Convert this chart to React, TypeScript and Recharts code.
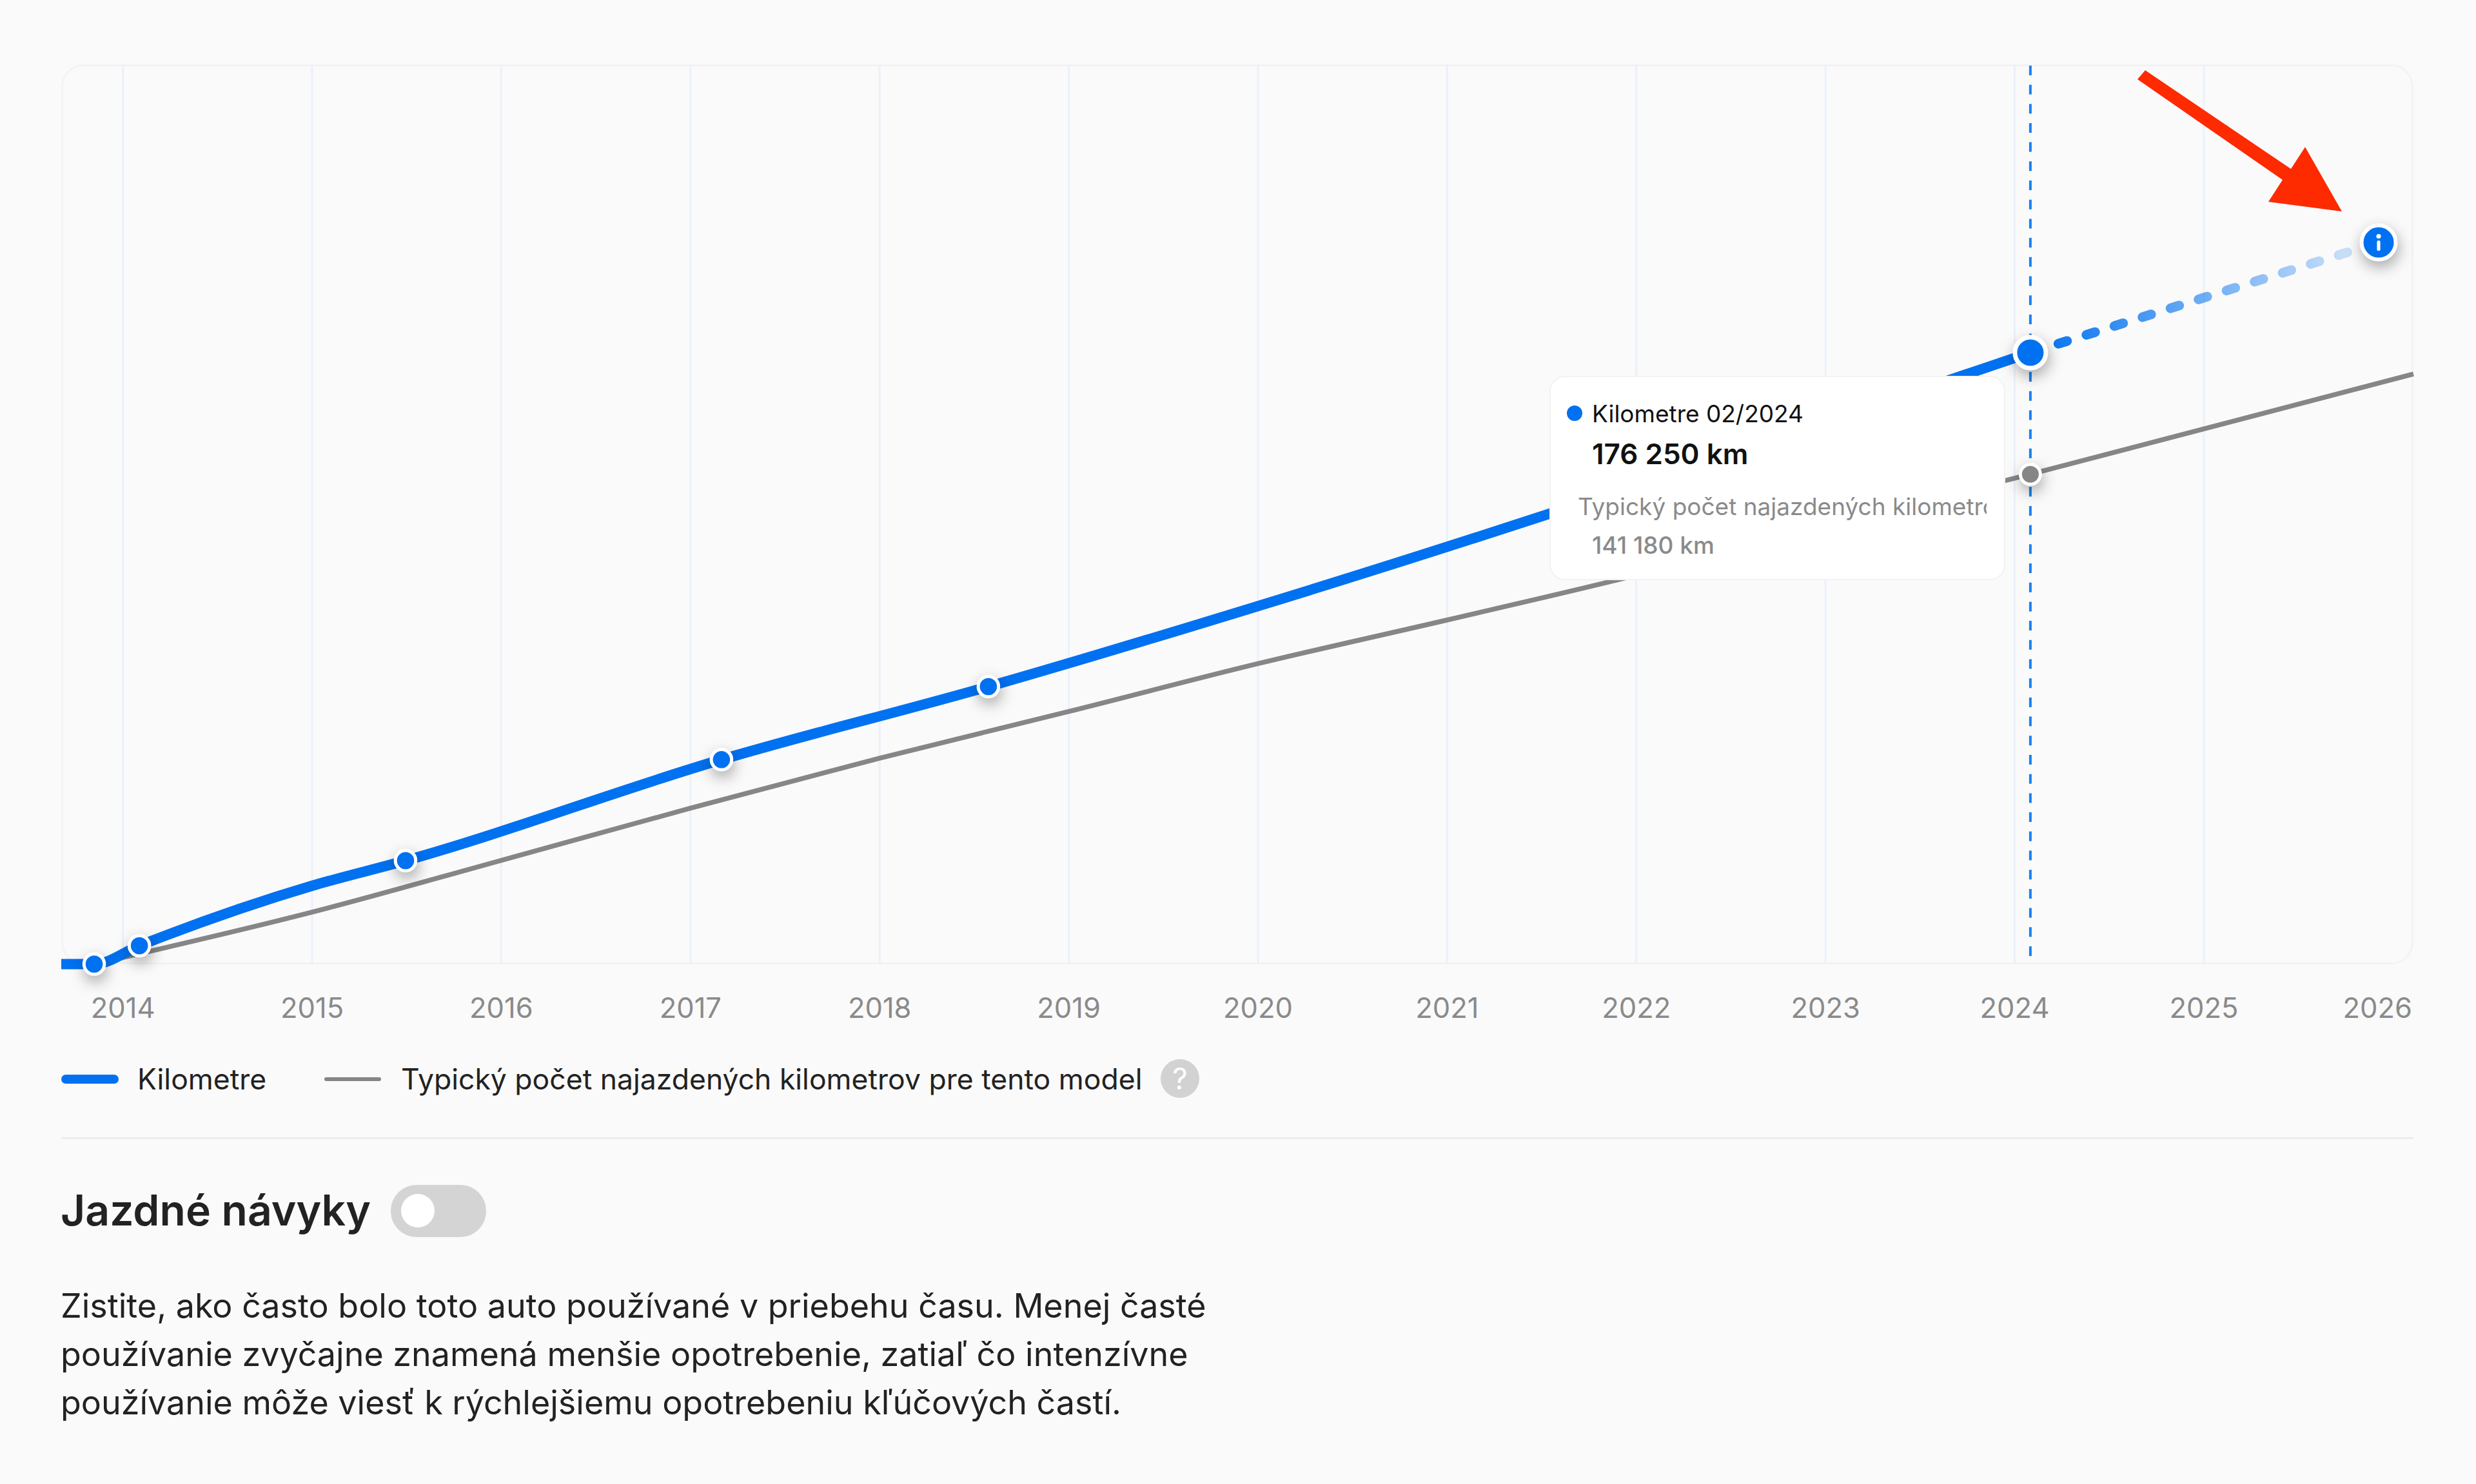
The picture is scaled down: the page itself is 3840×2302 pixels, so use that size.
import { CartesianGrid, Line, LineChart, ReferenceLine, XAxis, YAxis } from "recharts";

const BLUE = "#0071f0";
const GRAY = "#868686";
const FONT = "Inter, sans-serif";

const tickYears = [2014, 2015, 2016, 2017, 2018, 2019, 2020, 2021, 2022, 2023, 2024, 2025, 2026];
const gridYears = [2014, 2015, 2016, 2017, 2018, 2019, 2020, 2021, 2022, 2023, 2024, 2025];

const X_MIN = 2013.674;
const X_MAX = 2026.108;
const Y_MAX = 259300;

const kmDates = [2013.674, 2013.848, 2014.087, 2015, 2015.494, 2017.164, 2018.575, 2020.167, 2024.083];
const kmValues = [0, 0, 5300, 22570, 29820, 58940, 79990, 106000, 176250];
const readingDates = [2013.848, 2014.087, 2015.494, 2017.164, 2018.575];

const forecastDates = [2024.083, 2025.924];
const forecastValues = [176250, 208000];

const typicalDates = [2013.848, 2015, 2016, 2017, 2018, 2019, 2020, 2021, 2021.87, 2023, 2024.083, 2026.108];
const typicalValues = [0, 14970, 29900, 44930, 59360, 72800, 86600, 99180, 110330, 126300, 141180, 170100];

const selectedDate = 2024.083;
const selectedLabel = "02/2024";
const kmName = "Kilometre";
const typicalName = "Typický počet najazdených kilometrov pre tento model";

const bodyLines = [
  "Zistite, ako často bolo toto auto používané v priebehu času. Menej časté",
  "používanie zvyčajne znamená menšie opotrebenie, zatiaľ čo intenzívne",
  "používanie môže viesť k rýchlejšiemu opotrebeniu kľúčových častí.",
];

const kmData = kmDates.map((date, i) => ({ date, km: kmValues[i] }));
const forecastData = forecastDates.map((date, i) => ({ date, km: forecastValues[i] }));
const typicalData = typicalDates.map((date, i) => ({ date, km: typicalValues[i] }));

const formatKm = (v: number) =>
  `${Math.floor(v / 1000)} ${String(v % 1000).padStart(3, "0")} km`;

const shadow = { filter: "drop-shadow(2px 9px 11px rgba(0,0,0,0.33))" };

function KmDot({ cx, cy, payload, index }: any) {
  if (payload.date === selectedDate) {
    return (
      <g key={index} style={shadow}>
        <circle cx={cx} cy={cy} r={24} fill={BLUE} stroke="#fff" strokeWidth={7} />
      </g>
    );
  }
  if (!readingDates.includes(payload.date)) return <g key={index} />;
  return (
    <g key={index} style={shadow}>
      <circle cx={cx} cy={cy} r={15.8} fill={BLUE} stroke="#fff" strokeWidth={5} />
    </g>
  );
}

function TypicalDot({ cx, cy, payload, index }: any) {
  if (payload.date !== selectedDate) return <g key={index} />;
  return (
    <g key={index} style={shadow}>
      <circle cx={cx} cy={cy} r={15.5} fill={GRAY} stroke="#fff" strokeWidth={5} />
    </g>
  );
}

function ForecastDot({ cx, cy, payload, index }: any) {
  if (payload.date === selectedDate) return <g key={index} />;
  return (
    <g key={index}>
      <g style={shadow}>
        <circle cx={cx} cy={cy} r={26.5} fill={BLUE} stroke="#fff" strokeWidth={6} />
      </g>
      <circle cx={cx} cy={cy - 9.5} r={3.6} fill="#fff" />
      <rect x={cx - 2.6} y={cy - 3} width={5.2} height={16} rx={2.6} fill="#fff" />
    </g>
  );
}

function YearTick({ x, y, payload }: any) {
  const shift = payload.value === tickYears[tickYears.length - 1] ? -24 : 0;
  return (
    <text x={x + shift} y={y + 61} textAnchor="middle" dominantBaseline="central" fontFamily={FONT} fontSize={43.5} fill="#8a8a8a">
      {payload.value}
    </text>
  );
}

const abs = (left: number, top: number, extra: any = {}) => ({
  position: "absolute" as const,
  left,
  top,
  whiteSpace: "nowrap" as const,
  ...extra,
});

export default function App() {
  return (
    <div style={{ position: "absolute", left: 0, top: 0, width: 3840, height: 2302, background: "#fafafa", overflow: "hidden", fontFamily: FONT }}>
      <div style={abs(95, 100, { width: 3648, height: 1396, boxSizing: "border-box", border: "3px solid #f3f3f3", borderRadius: 34 })} />

      <div style={abs(0, 0)}>
        <LineChart width={3840} height={1600} margin={{ top: 100, right: 97, bottom: 4.5, left: 95 }}>
          <defs>
            <linearGradient id="forecastFade" x1="0" y1="0" x2="1" y2="0">
              <stop offset="0%" stopColor={BLUE} stopOpacity={1} />
              <stop offset="100%" stopColor={BLUE} stopOpacity={0.12} />
            </linearGradient>
          </defs>
          <CartesianGrid horizontal={false} verticalValues={gridYears} stroke="#ebf1fa" strokeWidth={3} />
          <XAxis
            type="number"
            dataKey="date"
            domain={[X_MIN, X_MAX]}
            ticks={tickYears}
            interval={0}
            height={100}
            axisLine={false}
            tickLine={false}
            tick={<YearTick />}
            tickMargin={0}
            allowDuplicatedCategory={false}
          />
          <YAxis hide type="number" domain={[0, Y_MAX]} />
          <ReferenceLine x={selectedDate} stroke="#1a80f0" strokeWidth={4} strokeDasharray="15 14.7" strokeDashoffset={17.2} />
          <Line
            data={typicalData}
            dataKey="km"
            name={typicalName}
            type="monotone"
            stroke={GRAY}
            strokeWidth={7.5}
            dot={TypicalDot}
            activeDot={false}
            isAnimationActive={false}
          />
          <Line
            data={forecastData}
            dataKey="km"
            name="Prognóza"
            type="linear"
            stroke="url(#forecastFade)"
            strokeWidth={15}
            strokeLinecap="round"
            strokeDasharray="14 31.6"
            dot={ForecastDot}
            activeDot={false}
            isAnimationActive={false}
          />
          <Line
            data={kmData}
            dataKey="km"
            name={kmName}
            type="monotone"
            stroke={BLUE}
            strokeWidth={16}
            dot={KmDot}
            activeDot={false}
            isAnimationActive={false}
          />
        </LineChart>
      </div>

      <svg style={abs(0, 0)} width={3840} height={400}>
        <polygon
          points="3315,123 3327,109 3553,262 3575,228 3632,328 3518,313 3540,279"
          fill="#fe2a00"
        />
      </svg>

      {/* tooltip */}
      <div style={abs(2403, 583, { width: 707, height: 317, boxSizing: "border-box", background: "#fff", border: "2px solid #f2f2f2", borderRadius: 24 })} />
      <div style={abs(2430, 629, { width: 24, height: 24, borderRadius: 12, background: BLUE })} />
      <div style={abs(2469, 641, { transform: "translateY(-50%)", fontSize: 37, color: "#111", lineHeight: 1 })}>{`${kmName} ${selectedLabel}`}</div>
      <div style={abs(2469, 704, { transform: "translateY(-50%)", fontSize: 44, fontWeight: 600, color: "#111", lineHeight: 1 })}>{formatKm(kmValues[kmValues.length - 1])}</div>
      <div style={abs(2447, 786, { transform: "translateY(-50%)", width: 634, overflow: "hidden", fontSize: 37, color: "#8a8a8a", lineHeight: 1.3 })}>{typicalName}</div>
      <div style={abs(2469, 845, { transform: "translateY(-50%)", fontSize: 37, fontWeight: 500, color: "#8a8a8a", lineHeight: 1 })}>{formatKm(141180)}</div>

      {/* legend */}
      <div style={abs(95, 1667, { width: 89, height: 14, borderRadius: 7, background: BLUE })} />
      <div style={abs(213, 1674, { transform: "translateY(-50%)", fontSize: 44.5, color: "#222", lineHeight: 1 })}>{kmName}</div>
      <div style={abs(503, 1671, { width: 88, height: 6, borderRadius: 3, background: GRAY })} />
      <div style={abs(622, 1674, { transform: "translateY(-50%)", fontSize: 44.5, color: "#222", lineHeight: 1 })}>{typicalName}</div>
      <div style={abs(1800, 1643, { width: 60, height: 60, borderRadius: 30, background: "#d2d2d2", color: "#fff", fontSize: 46, fontWeight: 400, textAlign: "center", lineHeight: "60px" })}>?</div>

      <div style={abs(95, 1764, { width: 3648, height: 3, background: "#ececec" })} />

      <div style={abs(94, 1877, { transform: "translateY(-50%)", fontSize: 66, fontWeight: 600, color: "#222", lineHeight: 1 })}>Jazdné návyky</div>
      <div style={abs(606, 1838, { width: 148, height: 81, borderRadius: 40, background: "#d4d4d4" })} />
      <div style={abs(622, 1852, { width: 52, height: 52, borderRadius: 26, background: "#fff" })} />

      {bodyLines.map((line, i) => (
        <div key={i} style={abs(94, 2026 + i * 75, { transform: "translateY(-50%)", fontSize: 52, color: "#222", lineHeight: 1 })}>
          {line}
        </div>
      ))}
    </div>
  );
}
